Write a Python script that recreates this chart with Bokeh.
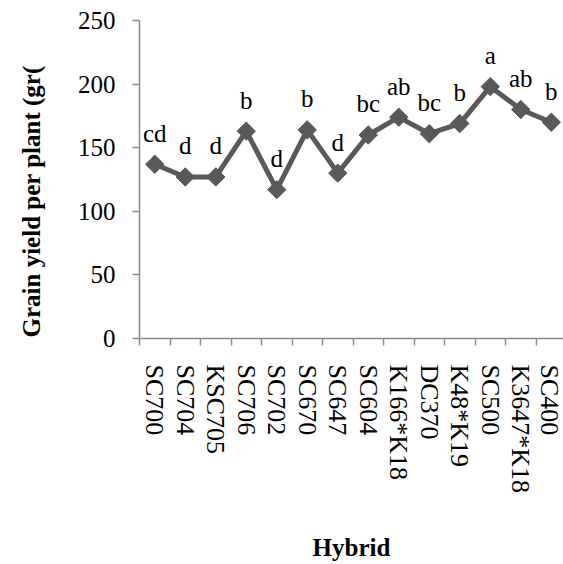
import math
from bokeh.plotting import figure
from bokeh.models import Range1d, FixedTicker, ColumnDataSource
from bokeh.core.properties import value
from bokeh.embed import file_html
from bokeh.resources import INLINE

hybrids = ["SC700", "SC704", "KSC705", "SC706", "SC702", "SC670", "SC647",
           "SC604", "K166*K18", "DC370", "K48*K19", "SC500", "K3647*K18", "SC400"]
grain_yield = [137, 127, 127, 163, 117, 164, 130, 160, 174, 161, 169, 198, 180, 170]
letters = ["cd", "d", "d", "b", "d", "b", "d", "bc", "ab", "bc", "b", "a", "ab", "b"]
y_ticks = [0, 50, 100, 150, 200, 250]

xs = list(range(1, len(hybrids) + 1))
src = ColumnDataSource(dict(x=xs, y=grain_yield, lab=letters))

FONT = "Liberation Serif"
AXIS_COL = "#898989"
LINE_COL = "#595959"

p = figure(width=563, height=564, output_backend="svg", toolbar_location=None,
           x_range=Range1d(0.5, 14.4), y_range=Range1d(0, 250),
           min_border_left=139, min_border_right=0, min_border_top=20,
           min_border_bottom=226)
p.outline_line_color = None
p.xgrid.visible = False
p.ygrid.visible = False
p.background_fill_color = "white"
p.border_fill_color = "white"

p.line("x", "y", source=src, line_color=LINE_COL, line_width=5)
p.scatter("x", "y", source=src, marker="square", size=13, angle=math.pi / 4,
          fill_color=LINE_COL, line_color=LINE_COL)
p.text("x", "y", text="lab", source=src, y_offset=-31, text_align="center",
       text_baseline="middle", text_font=value(FONT), text_font_size="25px",
       text_color="black")

# y axis
ya = p.yaxis[0]
ya.ticker = FixedTicker(ticks=y_ticks)
ya.axis_line_color = AXIS_COL
ya.axis_line_width = 1.5
ya.major_tick_line_color = AXIS_COL
ya.major_tick_line_width = 1.5
ya.major_tick_out = 7
ya.major_tick_in = 0
ya.minor_tick_line_color = None
ya.major_label_text_font = FONT
ya.major_label_text_font_size = "25px"
ya.major_label_text_color = "black"
ya.major_label_standoff = 17
ya.axis_label = "Grain yield per plant (gr(" + "\u00a0" * 7
ya.axis_label_text_font = FONT
ya.axis_label_text_font_size = "25px"
ya.axis_label_text_font_style = "bold"
ya.axis_label_text_color = "black"
ya.axis_label_standoff = 30

# x axis: labels at centers, tick marks at category boundaries
xa = p.xaxis[0]
xa.ticker = FixedTicker(ticks=xs, minor_ticks=[i + 0.5 for i in range(len(hybrids) + 1)])
xa.major_label_overrides = {x: h for x, h in zip(xs, hybrids)}
xa.major_label_orientation = "vertical"
xa.axis_line_color = AXIS_COL
xa.axis_line_width = 1.5
xa.major_tick_line_color = None
xa.major_tick_out = 0
xa.major_tick_in = 0
xa.minor_tick_line_color = AXIS_COL
xa.minor_tick_line_width = 1.5
xa.minor_tick_out = 7
xa.minor_tick_in = 0
xa.major_label_text_font = FONT
xa.major_label_text_font_size = "26px"
xa.major_label_text_color = "black"
xa.major_label_standoff = 19
xa.axis_label = "Hybrid"
xa.axis_label_text_font = FONT
xa.axis_label_text_font_size = "25px"
xa.axis_label_text_font_style = "bold"
xa.axis_label_text_color = "black"
xa.axis_label_standoff = 38

open("out.html", "w").write(file_html(p, INLINE))
